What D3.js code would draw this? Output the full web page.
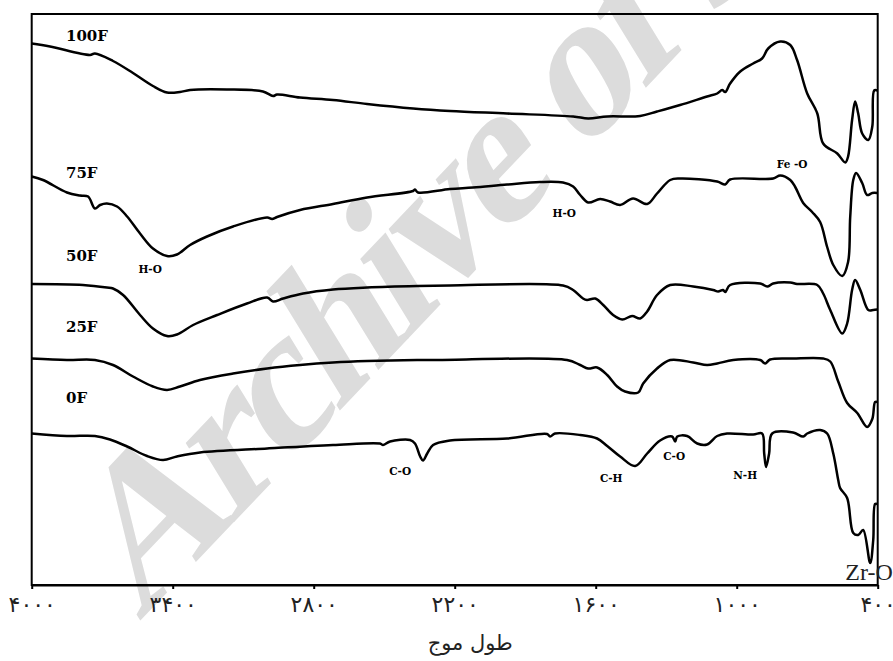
<!DOCTYPE html>
<html><head><meta charset="utf-8">
<script src="https://cdn.jsdelivr.net/npm/d3@7"></script>
<style>body{margin:0;background:#fff}</style>
</head><body>
<svg id="c" width="893" height="661"></svg>
<script>
// ---- data (wavenumber cm-1, offset transmittance a.u.) ----
const xTicks = [4000, 3400, 2800, 2200, 1600, 1000, 400];
const xTickLabels = ["۴۰۰۰", "۳۴۰۰", "۲۸۰۰", "۲۲۰۰", "۱۶۰۰", "۱۰۰۰", "۴۰۰"];
const xTitle = "طول موج";
const seriesNames = ["100F", "75F", "50F", "25F", "0F"];

const s100F = [[4000,108.3],[3922,107.7],[3752,106],[3731,106.3],[3654,104.8],[3569,102.4],[3484,99.8],[3424,98.5],[3369,98.6],[3326,99],[3169,99.1],[3016,98.7],[2973,97.8],[2956,98.1],[2858,97.5],[2718,97],[2573,96.2],[2377,95.3],[2220,94.8],[1977,94.3],[1696,93.7],[1632,93.3],[1551,93.7],[1411,93.8],[1339,94.7],[1241,96],[1126,97.7],[1083,98.3],[1062,99],[1049,98.6],[1028,100.3],[985,102.7],[930,104.3],[892,105.3],[866,107.3],[815,108.7],[772,108],[743,105],[700,98.3],[657,94.3],[632,88.3],[572,86.3],[538,84.5],[526,85.7],[509,93],[496,96.7],[483,94.3],[466,90.3],[440,89],[423,91.7],[415,98.9],[402,98.9]];

const s75F = [[4000,81.7],[3952,81],[3850,78.5],[3794,77.9],[3760,77.7],[3731,75.3],[3709,76],[3680,76.3],[3637,75.7],[3594,73.7],[3539,70.3],[3484,67.3],[3424,65.8],[3382,66.1],[3326,68],[3254,69.7],[3143,71.7],[2998,73.5],[2977,73.2],[2956,73.6],[2858,75],[2718,76.2],[2573,77.5],[2377,78.8],[2369,79.1],[2356,78.5],[2220,79.2],[2122,79.5],[1977,80.1],[1837,80.6],[1739,80.5],[1696,79.7],[1666,78],[1632,76.5],[1581,77.2],[1539,76.7],[1496,76],[1441,77.3],[1381,76.2],[1339,78.3],[1283,81],[1241,81.3],[1083,80.7],[1049,80.1],[1028,81.1],[845,81.3],[815,81.9],[772,81],[751,79.6],[717,76.4],[679,74.6],[645,72.6],[615,67.6],[589,64],[551,61.8],[526,64.6],[517,73.6],[504,81],[492,82.4],[466,80.4],[445,78],[423,78.4],[402,78.4]];

const s50F = [[4000,60.2],[3782,60],[3680,59.5],[3654,59.3],[3611,58],[3539,54],[3484,51.3],[3424,49.8],[3382,50.1],[3313,52],[3211,54],[3084,56.3],[2998,57.5],[2973,56.7],[2930,57.3],[2845,58.3],[2718,59.1],[2573,59.5],[2360,59.8],[2220,59.9],[1739,59.9],[1696,59],[1654,57.3],[1637,57],[1602,57.3],[1568,56],[1526,54],[1487,53.1],[1445,53.8],[1411,53.3],[1381,54.7],[1339,58],[1283,60],[1185,59.7],[1100,59],[1079,58.7],[1058,59],[1049,58.6],[1028,60],[900,60.3],[870,59.7],[845,60.3],[772,60.5],[743,60.2],[657,60],[632,58.3],[602,55],[551,50.3],[530,52.3],[509,59],[496,61],[474,59],[440,55],[419,55],[402,55.1]];

const s25F = [[4000,45.3],[3850,45],[3731,45],[3654,44],[3569,41.7],[3484,39.7],[3424,39],[3369,39.7],[3284,41],[3143,42.3],[2998,43.3],[2858,44],[2718,44.5],[2573,44.8],[2360,45],[2262,45],[1722,45],[1666,44],[1632,43.3],[1594,43.5],[1551,42],[1509,39.7],[1475,38.7],[1419,38.5],[1398,40.3],[1339,43.3],[1283,45],[1185,44.5],[1126,44],[1083,44.3],[1015,45],[900,45],[879,44.3],[858,45.1],[760,45.3],[632,45.3],[602,44.7],[568,40.7],[530,36.4],[487,34.4],[445,31.6],[423,33.2],[411,36.6],[402,36.6]];

const s0F = [[4000,30.3],[3850,29.8],[3731,29.8],[3667,29.1],[3594,27.7],[3509,25.8],[3441,25],[3382,25.7],[3284,26.5],[2998,27.3],[2718,28],[2518,28.3],[2505,28],[2475,28.7],[2390,29],[2369,28.3],[2347,25.7],[2335,24.9],[2317,26.3],[2292,28],[2220,28.9],[1977,29.3],[1807,30.2],[1794,29.7],[1773,30.3],[1666,30],[1594,29.3],[1551,27.8],[1496,25.7],[1432,23.8],[1381,26.3],[1326,28.9],[1275,29.7],[1262,28.7],[1253,29.7],[1211,29.8],[1168,28.3],[1126,28.1],[1083,29.8],[1041,30.3],[930,30.1],[892,30.3],[883,26.3],[875,23.6],[862,26.3],[849,30.3],[760,30.5],[717,29.7],[700,30.3],[645,31],[615,30.3],[589,26.3],[568,21],[560,19.4],[530,17.4],[504,10.4],[483,10],[462,11],[432,4.4],[419,9],[411,16.2],[402,16.2]];

const seriesLabelPos = [[3854,108.8],[3854,81.4],[3854,64.8],[3854,50.6],[3854,36.4]];
const bandLabels = ["H-O", "H-O", "Fe -O", "C-O", "C-H", "C-O", "N-H"];
const bandPos = [[3496,62.4],[1734,73.6],[764,83.4],[2432,22],[1534,20.6],[1266,25],[964,21.2]];
const zrLabel = "Zr-O";
const zrPos = [538, 1];
const titlePos = [2134, -13];
const watermark = "Archive of SID";

// ---- drawing ----
const svg = d3.select("#c");
const x = d3.scaleLinear().domain([4000, 400]).range([31.7, 877.7]);
const y = d3.scaleLinear().domain([0, 114.2]).range([585, 14]);

// watermark (behind everything)
svg.append("text")
  .attr("transform", "translate(139,622) rotate(-46.5) skewX(-15)")
  .attr("font-family", "'Liberation Serif', serif")
  .attr("font-weight", "bold")
  .attr("letter-spacing", -8)
  .attr("font-size", 195).attr("fill", "#dcdcdc")
  .text(watermark);

// frame
svg.append("rect")
  .attr("x", x(4000)).attr("y", y(114.2))
  .attr("width", x(400) - x(4000)).attr("height", y(0) - y(114.2))
  .attr("fill", "none").attr("stroke", "#000").attr("stroke-width", 2);

const ax = svg.append("g").attr("transform", `translate(0,${y(0)})`)
  .call(d3.axisBottom(x).tickValues(xTicks).tickSize(4).tickSizeOuter(0)
    .tickFormat((d, i) => xTickLabels[i]));
ax.select(".domain").attr("stroke-width", 2);
ax.selectAll(".tick line").attr("stroke-width", 2);
ax.selectAll(".tick text")
  .attr("font-family", "'DejaVu Sans', sans-serif")
  .attr("font-size", 22).attr("fill", "#222").attr("y", 10).attr("dy", "0.75em");

svg.append("text")
  .attr("x", x(titlePos[0])).attr("y", y(titlePos[1]))
  .attr("text-anchor", "middle")
  .attr("font-family", "'DejaVu Sans', sans-serif")
  .attr("font-size", 21).attr("fill", "#222")
  .text(xTitle);

// curves
const line = d3.line().x(d => x(d[0])).y(d => y(d[1])).curve(d3.curveCatmullRom.alpha(0.5));
[s100F, s75F, s50F, s25F, s0F].forEach(s => {
  svg.append("path").datum(s).attr("d", line)
    .attr("fill", "none").attr("stroke", "#000").attr("stroke-width", 2.5)
    .attr("stroke-linejoin", "round");
});

// series labels
seriesNames.forEach((n, i) => {
  svg.append("text").attr("x", x(seriesLabelPos[i][0])).attr("y", y(seriesLabelPos[i][1]))
    .attr("font-family", "'DejaVu Serif', serif").attr("font-weight", "bold")
    .attr("font-size", 15).attr("fill", "#000").text(n);
});

// band labels
bandLabels.forEach((n, i) => {
  svg.append("text").attr("x", x(bandPos[i][0])).attr("y", y(bandPos[i][1]))
    .attr("text-anchor", "middle")
    .attr("font-family", "'DejaVu Serif', serif").attr("font-weight", "bold")
    .attr("font-size", 10.5).attr("fill", "#000").text(n);
});

svg.append("text").attr("x", x(zrPos[0])).attr("y", y(zrPos[1]))
  .attr("font-family", "'Liberation Serif', serif").attr("font-size", 24)
  .attr("fill", "#222").text(zrLabel);
</script>
</body></html>
